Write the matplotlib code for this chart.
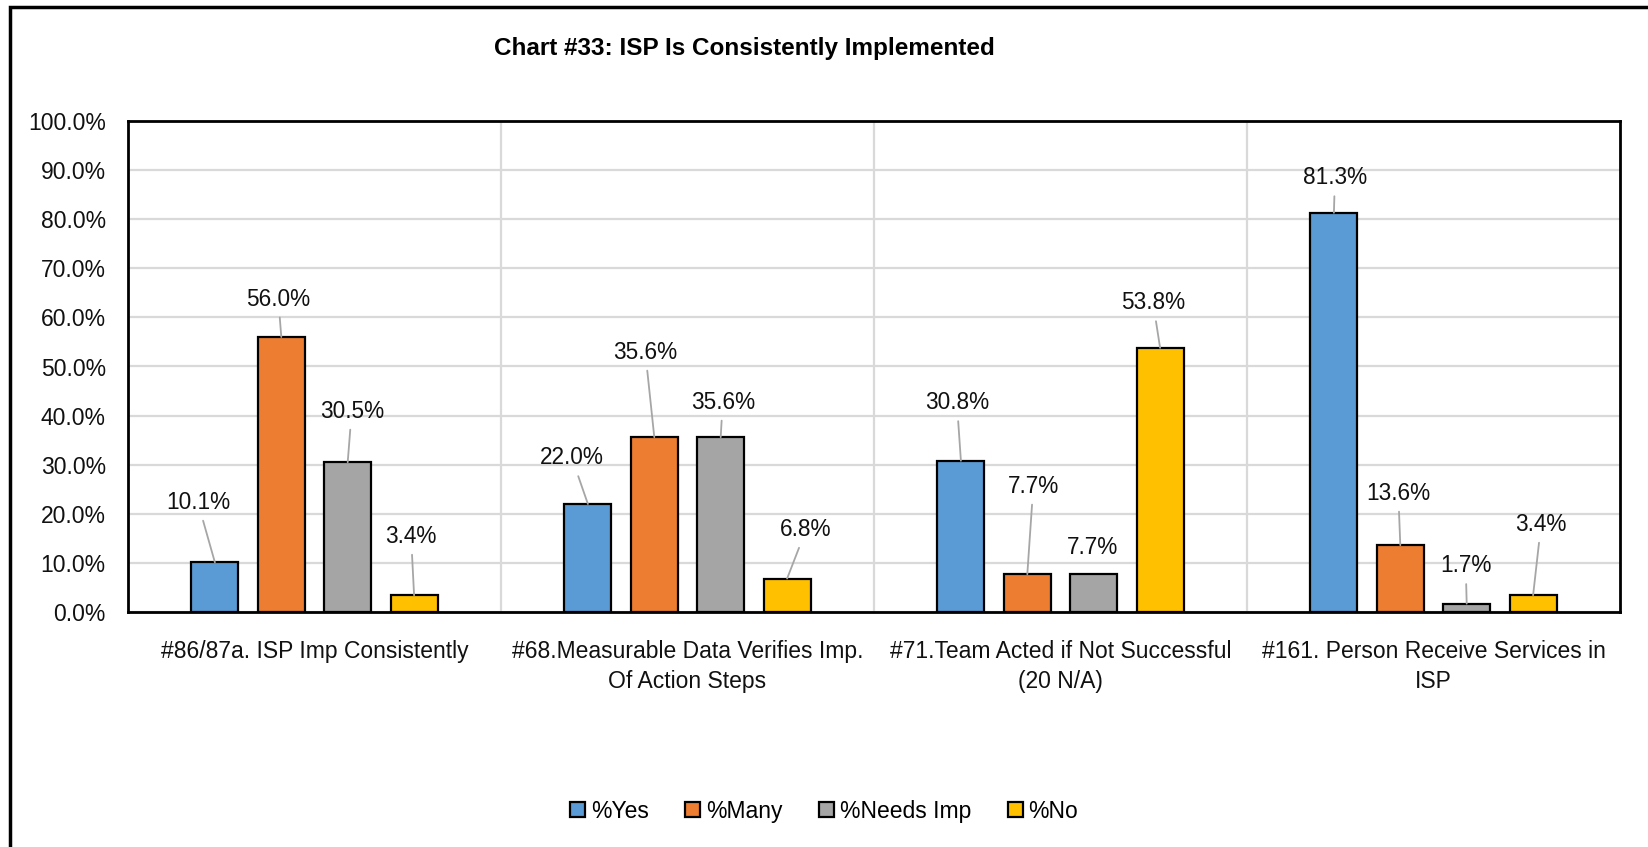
import matplotlib
matplotlib.use("Agg")
import matplotlib.pyplot as plt
from matplotlib.patches import Rectangle
from matplotlib.ticker import FuncFormatter
import numpy as np

plt.rcParams['font.family'] = ['Liberation Sans', 'DejaVu Sans']

# data
categories = ["#86/87a. ISP Imp Consistently",
              "#68.Measurable Data Verifies Imp.\nOf Action Steps",
              "#71.Team Acted if Not Successful\n(20 N/A)",
              "#161. Person Receive Services in\nISP"]
series_names = ["%Yes", "%Many", "%Needs Imp", "%No"]
pct_yes = [0.101, 0.220, 0.308, 0.813]
pct_many = [0.560, 0.356, 0.077, 0.136]
pct_needs = [0.305, 0.356, 0.077, 0.017]
pct_no = [0.034, 0.068, 0.538, 0.034]
series = [pct_yes, pct_many, pct_needs, pct_no]
colors = ["#5B9BD5", "#ED7D31", "#A5A5A5", "#FFC000"]

# label offsets (pixels: dx, dy above bar top) per series, per category
label_off = [
    [(-17, 60), (-16, 46), (-4, 58), (1, 35)],
    [(-3, 38), (-9, 85), (6, 88), (-2, 52)],
    [(4, 51), (2, 35), (-1, 27), (-1, 38)],
    [(-3, 59), (19, 49), (-7, 45), (8, 71)],
]

W, H = 1648, 847
fig = plt.figure(figsize=(W / 100, H / 100), dpi=100)
ax = fig.add_axes([128 / W, 1 - 612 / H, 1492 / W, 491 / H])

# outer chart border (only top and left visible)
fig.patches.append(Rectangle((10 / W, -0.1), 1.2, 1 - 7 / H + 0.1, transform=fig.transFigure,
                             fill=False, edgecolor='black', lw=2.5, zorder=0))

x = np.arange(len(categories))
step = 0.178
bw = 0.126
px2pt = 0.72
for i, vals in enumerate(series):
    xs = x + (i - 1.5) * step
    ax.bar(xs, vals, width=bw, color=colors[i], edgecolor='black', linewidth=1.6,
           label=series_names[i], zorder=3)
    for j, v in enumerate(vals):
        dx, dy = label_off[i][j]
        arrow = None
        if dy > 30:
            arrow = dict(arrowstyle='-', color='#A6A6A6', lw=1.3, shrinkA=3, shrinkB=0)
        ax.annotate("{:.1f}%".format(v * 100), xy=(xs[j], v),
                    xytext=(dx * px2pt, dy * px2pt), textcoords='offset points',
                    ha='center', va='center', fontsize=16.3, color='#111111',
                    arrowprops=arrow, zorder=4)

ax.set_xlim(-0.5, len(categories) - 0.5)
ax.set_ylim(0, 1)
ax.set_yticks(np.arange(0, 1.01, 0.1))
ax.yaxis.set_major_formatter(FuncFormatter(lambda v, p: "{:.1f}%".format(v * 100)))
ax.set_xticks(x)
ax.set_xticklabels(categories, fontsize=16.5, linespacing=1.4)
ax.tick_params(axis='y', length=0, labelsize=16.5, colors='#111111', pad=16)
ax.tick_params(axis='x', length=0, colors='#111111', pad=20)
ax.grid(axis='y', color='#D9D9D9', lw=1.6, zorder=0)
for b in [0.5, 1.5, 2.5]:
    ax.axvline(b, color='#D9D9D9', lw=1.6, zorder=0)
for s in ax.spines.values():
    s.set_linewidth(2)
    s.set_color('black')

fig.text(744 / W, 1 - 49 / H, "Chart #33: ISP Is Consistently Implemented",
         ha='center', va='center', fontsize=17.5, fontweight='bold')

fig.legend(loc='center', bbox_to_anchor=(824 / W, 1 - 811 / H), ncol=4, frameon=False,
           fontsize=16.5, handlelength=0.65, handleheight=0.65, handletextpad=0.25,
           columnspacing=1.6)

fig.savefig("out.png", dpi=100)
